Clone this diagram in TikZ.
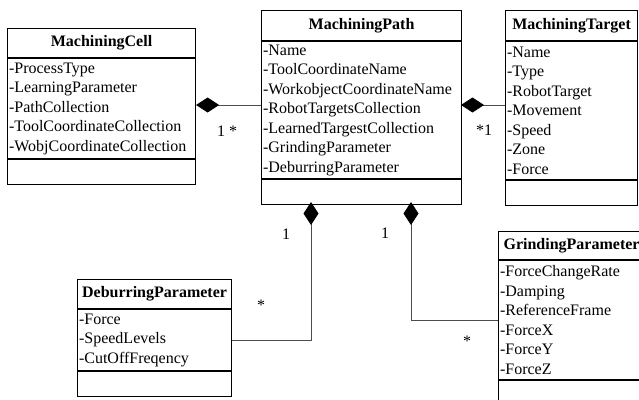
\documentclass[tikz,border=0pt]{standalone}
\usepackage{fontspec}
\setmainfont{Liberation Serif}
\usetikzlibrary{arrows.meta}

\tikzset{
  umlfont/.style={font=\fontsize{16}{19.5}\selectfont},
  box/.style={draw, line width=1.1pt, inner sep=0pt, anchor=north west},
  titlebox/.style={box, font=\fontsize{16}{19.5}\selectfont\bfseries},
  attrbox/.style={box, umlfont, align=left, inner xsep=1.5pt, inner ysep=0pt},
  opbox/.style={box, minimum height=25pt},
  assoc/.style={draw=black!70, line width=0.9pt,
    {Diamond[length=23pt,width=15pt,color=black,fill=black]}-},
  mult/.style={umlfont, inner sep=0pt},
}

% class box: name, x, y, width, title height, attribute height, title, attributes
\newcommand\umlclass[8]{%
  \node[titlebox, minimum width=#4pt, minimum height=#5pt] (#1-t) at (#2,#3) {#7};
  \node[attrbox, text width=#4pt-3pt, minimum height=#6pt] (#1-a) at (#1-t.south west) {#8};
  \node[opbox, minimum width=#4pt] (#1-m) at (#1-a.south west) {};
}

\begin{document}
\begin{tikzpicture}[x=1pt, y=-1pt]
  \useasboundingbox (0,0) rectangle (639,399);

  \umlclass{cell}{7}{28}{188}{29}{100}{MachiningCell}
    {-ProcessType\\-LearningParameter\\-PathCollection\\-ToolCoordinateCollection\\-WobjCoordinateCollection}
  \umlclass{path}{261}{10}{200}{30}{137}{MachiningPath}
    {-Name\\-ToolCoordinateName\\-WorkobjectCoordinateName\\-RobotTargetsCollection\\-LearnedTargestCollection\\-GrindingParameter\\-DeburringParameter}
  \umlclass{target}{505}{10}{132}{30}{138}{MachiningTarget}
    {-Name\\-Type\\-RobotTarget\\-Movement\\-Speed\\-Zone\\-Force}
  \umlclass{debur}{77}{279}{154}{29}{61}{DeburringParameter}
    {-Force\\-SpeedLevels\\-CutOffFreqency}
  \umlclass{grind}{498}{231}{146}{28}{119}{GrindingParameter}
    {-ForceChangeRate\\-Damping\\-ReferenceFrame\\-ForceX\\-ForceY\\-ForceZ}

  % composition connectors
  \coordinate (pathL) at (261,105);
  \coordinate (pathR) at (461,105);
  \coordinate (pathB1) at (311,202);
  \coordinate (pathB2) at (411,202);
  \draw[assoc] (cell-a.east |- pathL) -- (pathL);
  \draw[assoc] (pathR) -- (target-a.west |- pathR);
  \draw[assoc] (pathB1) |- (debur-a.east);
  \draw[assoc] (pathB2) |- (grind-a.west);

  % multiplicities
  \node[mult] (m1) at (227,131) {1 *};
  \node[mult] (m2) at (484,130) {*1};
  \node[mult] (m3) at (286,234) {1};
  \node[mult] (m4) at (261,305) {*};
  \node[mult] (m5) at (385,233) {1};
  \node[mult] (m6) at (467,341) {*};
\end{tikzpicture}
\end{document}
